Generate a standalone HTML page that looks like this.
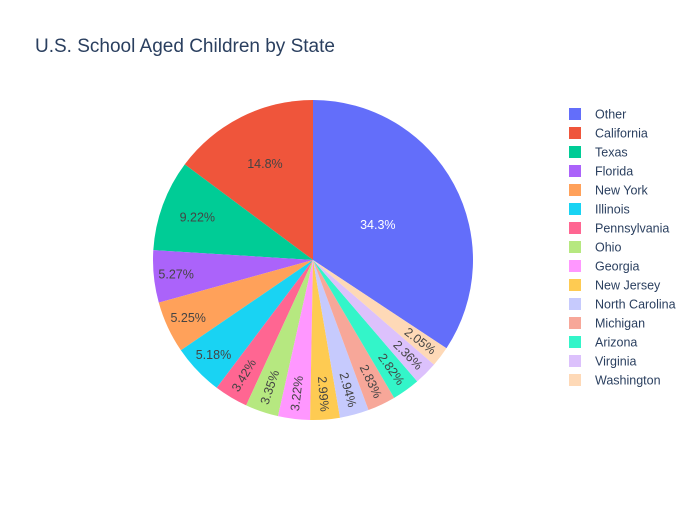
<!DOCTYPE html>
<html><head><meta charset="utf-8"><style>
body{margin:0;background:#fff;}
svg{font-family:"Liberation Sans",sans-serif;}
</style></head><body>
<svg id="chart" width="700" height="500">
<rect width="700" height="500" fill="#fff"/>
<text x="35" y="52" font-size="19" fill="#2a3f5f">U.S. School Aged Children by State</text>
<g id="slices"></g><g id="labels"></g><g id="legend"></g>
</svg>
<script>
const categories=["Other","California","Texas","Florida","New York","Illinois","Pennsylvania","Ohio","Georgia","New Jersey","North Carolina","Michigan","Arizona","Virginia","Washington"];
const values=[34.3,14.8,9.22,5.27,5.25,5.18,3.42,3.35,3.22,2.99,2.94,2.83,2.82,2.36,2.05];
const textLabels=["34.3%","14.8%","9.22%","5.27%","5.25%","5.18%","3.42%","3.35%","3.22%","2.99%","2.94%","2.83%","2.82%","2.36%","2.05%"];
const colors=["#636efa","#EF553B","#00cc96","#ab63fa","#FFA15A","#19d3f3","#FF6692","#B6E880","#FF97FF","#FECB52","#c6cafd","#f7a799","#33f5c9","#dcc1fc","#fed9b7"];
const NS="http://www.w3.org/2000/svg";
const cx=313,cy=260,R=160;
const total=values.reduce((a,b)=>a+b,0);
const start=360*values[0]/total;
function pt(a,r){const t=a*Math.PI/180;return [cx+r*Math.sin(t),cy-r*Math.cos(t)];}
const gs=document.getElementById('slices'),gl=document.getElementById('labels'),gg=document.getElementById('legend');
let cum=0;
values.forEach((v,i)=>{
  const f=v/total;
  const a0=start-cum*360, a1=start-(cum+f)*360;
  cum+=f;
  const p0=pt(a0,R),p1=pt(a1,R);
  const large=(a0-a1)>180?1:0;
  const path=document.createElementNS(NS,'path');
  path.setAttribute('d',`M${cx},${cy}L${p0[0]},${p0[1]}A${R},${R} 0 ${large} 0 ${p1[0]},${p1[1]}Z`);
  path.setAttribute('fill',colors[i]);
  
  
  gs.appendChild(path);
  const mid=(a0+a1)/2;
  const radial=f<0.045;
  const rf=radial?0.84:(f>0.3?0.46:f>0.1?0.67:f>0.08?0.77:0.86);
  const p=pt(mid,R*rf);
  const t=document.createElementNS(NS,'text');
  t.setAttribute('x',p[0]);t.setAttribute('y',p[1]);
  t.setAttribute('text-anchor','middle');t.setAttribute('dominant-baseline','central');
  t.setAttribute('font-size','12.5');t.setAttribute('fill',i==0?'#fff':'#444');
  if(radial){let rot=((mid-90)%360+360)%360;if(rot>180)rot-=360;if(rot>90)rot-=180;if(rot<-90)rot+=180;
    t.setAttribute('transform',`rotate(${rot} ${p[0]} ${p[1]})`);}
  t.textContent=textLabels[i];
  
  
  gl.appendChild(t);
  const y=114+i*19;
  const g=document.createElementNS(NS,'g');
  
  
  const r=document.createElementNS(NS,'rect');
  r.setAttribute('x',569);r.setAttribute('y',y-6);r.setAttribute('width',12);r.setAttribute('height',12);r.setAttribute('fill',colors[i]);
  const lt=document.createElementNS(NS,'text');
  lt.setAttribute('x',595);lt.setAttribute('y',y+4.5);lt.setAttribute('font-size','12.5');lt.setAttribute('fill','#2a3f5f');
  lt.textContent=categories[i];
  g.appendChild(r);g.appendChild(lt);gg.appendChild(g);
});
</script>
</body></html>
